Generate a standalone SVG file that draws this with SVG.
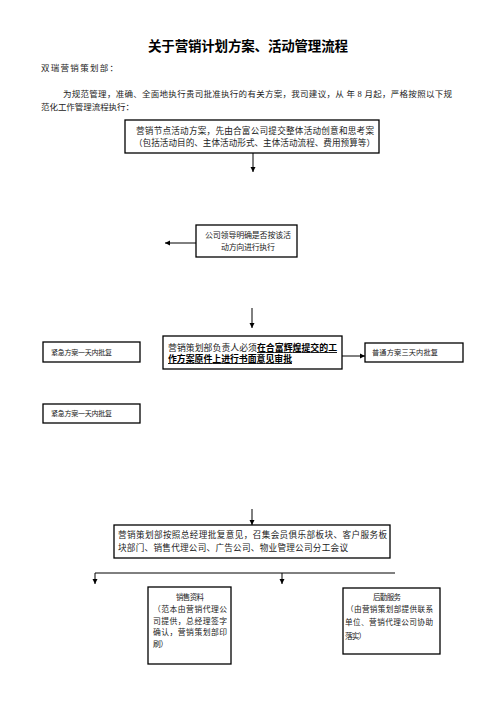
<svg xmlns="http://www.w3.org/2000/svg" width="496" height="702" viewBox="0 0 496 702">
<style>
text{font-family:"Liberation Serif","Noto Sans CJK SC",serif;fill:#222}
.t{font-family:"Noto Sans CJK SC",sans-serif;font-weight:bold;fill:#000}
.box{fill:#fff;stroke:#000;stroke-width:1.3}
.c{stroke:#000;stroke-width:1;fill:none}
.bu{font-weight:bold;text-decoration:underline;fill:#000}
</style>
<defs>
<marker id="ah" markerUnits="userSpaceOnUse" markerWidth="6" markerHeight="6" refX="5" refY="3" orient="auto">
<path d="M0,0.5 L5,3 L0,5.5 Z" fill="#000"/>
</marker>
</defs>
<g id="header">
<text class="t" x="248" y="51" font-size="13.5" text-anchor="middle" textLength="200" lengthAdjust="spacing">关于营销计划方案、活动管理流程</text>
<text x="41" y="71" font-size="8.5" textLength="77" lengthAdjust="spacing">双瑞营销策划部：</text>
<text x="63" y="97" font-size="8.5" textLength="389" lengthAdjust="spacing">为规范管理，准确、全面地执行贵司批准执行的有关方案，我司建议，从 年 8 月起，严格按照以下规</text>
<text x="41" y="110" font-size="8.5" textLength="93" lengthAdjust="spacing">范化工作管理流程执行：</text>
</g>
<g id="connectors">
<line class="c" x1="253" y1="153" x2="253" y2="172" marker-end="url(#ah)"/>
<line class="c" x1="196" y1="243" x2="165" y2="243" marker-end="url(#ah)"/>
<line class="c" x1="252" y1="308" x2="252" y2="328" marker-end="url(#ah)"/>
<line class="c" x1="342" y1="356" x2="365" y2="356" marker-end="url(#ah)"/>
<line class="c" x1="252" y1="509" x2="252" y2="525" marker-end="url(#ah)"/>
<line class="c" x1="95" y1="573" x2="395" y2="573"/>
<line class="c" x1="95" y1="573" x2="95" y2="584" marker-end="url(#ah)"/>
<line class="c" x1="282" y1="573" x2="282" y2="584" marker-end="url(#ah)"/>
</g>
<g id="n1">
<rect class="box" x="125" y="120" width="254" height="33"/>
<text x="136" y="134" font-size="8.6" textLength="238" lengthAdjust="spacing">营销节点活动方案，先由合富公司提交整体活动创意和思考案</text>
<text x="134" y="146" font-size="8.6" textLength="241" lengthAdjust="spacing">（包括活动目的、主体活动形式、主体活动流程、费用预算等）</text>
</g>
<g id="n2">
<rect class="box" x="196" y="225" width="101" height="32"/>
<text x="248" y="238" font-size="8" text-anchor="middle" textLength="86" lengthAdjust="spacing">公司领导明确是否按该活</text>
<text x="248" y="250" font-size="8" text-anchor="middle" textLength="54" lengthAdjust="spacing">动方向进行执行</text>
</g>
<g id="n3">
<rect class="box" x="163" y="336" width="179" height="33"/>
<text x="168" y="351" font-size="8.9" textLength="169" lengthAdjust="spacing">营销策划部负责人必须<tspan class="bu">在合富辉煌提交的工</tspan></text>
<text x="168" y="362" font-size="8.9" class="bu" textLength="124" lengthAdjust="spacing">作方案原件上进行书面意见审批</text>
</g>
<g id="n4">
<rect class="box" x="43" y="342" width="97" height="20"/>
<text x="51" y="355" font-size="7" textLength="61" lengthAdjust="spacing">紧急方案一天内批复</text>
</g>
<g id="n5">
<rect class="box" x="365" y="343" width="98" height="19"/>
<text x="372" y="355" font-size="7.2" textLength="66" lengthAdjust="spacing">普通方案三天内批复</text>
</g>
<g id="n6">
<rect class="box" x="43" y="404" width="97" height="19"/>
<text x="51" y="416" font-size="7" textLength="61" lengthAdjust="spacing">紧急方案一天内批复</text>
</g>
<g id="n7">
<rect class="box" x="114" y="525" width="276" height="33"/>
<text x="118" y="538" font-size="8.6" textLength="269" lengthAdjust="spacing">营销策划部按照总经理批复意见，召集会员俱乐部板块、客户服务板</text>
<text x="118" y="551" font-size="8.6" textLength="230" lengthAdjust="spacing">块部门、销售代理公司、广告公司、物业管理公司分工会议</text>
</g>
<g id="n8">
<rect class="box" x="148" y="587" width="83" height="77"/>
<text x="190" y="600" font-size="7.5" text-anchor="middle" textLength="28" lengthAdjust="spacing">销售资料</text>
<text x="153" y="612" font-size="7.8" textLength="74" lengthAdjust="spacing">（范本由营销代理公</text>
<text x="153" y="623.5" font-size="7.8" textLength="74" lengthAdjust="spacing">司提供，总经理签字</text>
<text x="153" y="635" font-size="7.8" textLength="74" lengthAdjust="spacing">确认，营销策划部印</text>
<text x="153" y="646.5" font-size="7.8" textLength="15" lengthAdjust="spacing">刷）</text>
</g>
<g id="n9">
<rect class="box" x="343" y="588" width="97" height="66"/>
<text x="387" y="600" font-size="7.5" text-anchor="middle" textLength="28" lengthAdjust="spacing">后勤服务</text>
<text x="346" y="612" font-size="7.6" textLength="87" lengthAdjust="spacing">（由营销策划部提供联系</text>
<text x="345" y="625" font-size="7.6" textLength="88" lengthAdjust="spacing">单位、营销代理公司协助</text>
<text x="345" y="639" font-size="7.6" textLength="21" lengthAdjust="spacing">落实）</text>
</g>
</svg>
